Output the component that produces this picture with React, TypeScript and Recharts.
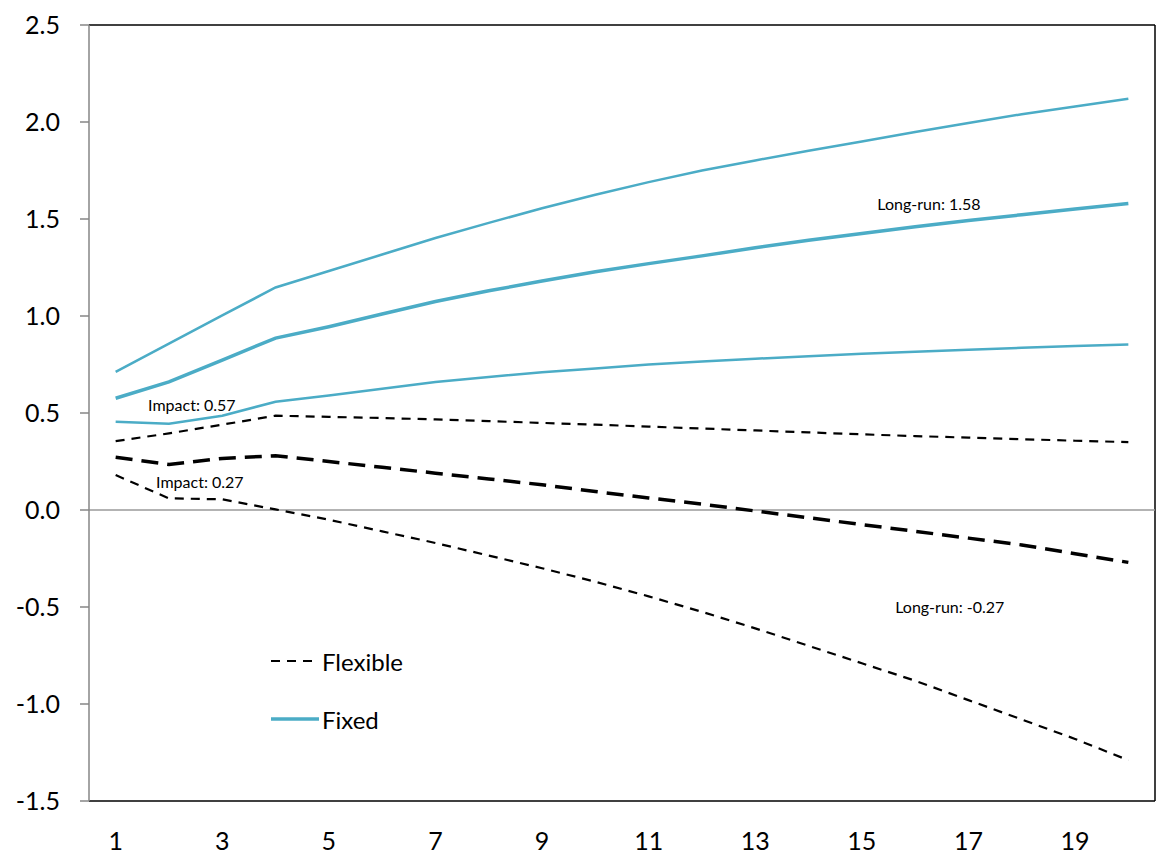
import React from 'react'
import {
  LineChart,
  Line,
  XAxis,
  YAxis,
  ReferenceLine,
  ReferenceDot,
} from 'recharts'

const periods = [1, 2, 3, 4, 5, 6, 7, 8, 9, 10, 11, 12, 13, 14, 15, 16, 17, 18, 19, 20]

const flexibleUpper = [0.355, 0.395, 0.44, 0.486, 0.48, 0.474, 0.467, 0.458, 0.449, 0.44, 0.43, 0.42, 0.41, 0.4, 0.39, 0.381, 0.373, 0.365, 0.357, 0.35]
const flexibleMid = [0.272, 0.235, 0.266, 0.28, 0.25, 0.22, 0.19, 0.16, 0.13, 0.095, 0.062, 0.03, -0.005, -0.04, -0.075, -0.11, -0.145, -0.18, -0.225, -0.27]
const flexibleLower = [0.18, 0.06, 0.055, 0.003, -0.05, -0.11, -0.17, -0.235, -0.3, -0.37, -0.445, -0.525, -0.61, -0.7, -0.79, -0.88, -0.98, -1.08, -1.18, -1.29]

const fixedUpper = [0.712, 0.858, 1.003, 1.147, 1.232, 1.317, 1.402, 1.48, 1.555, 1.625, 1.69, 1.75, 1.802, 1.852, 1.9, 1.948, 1.995, 2.04, 2.08, 2.12]
const fixedMid = [0.576, 0.66, 0.773, 0.886, 0.945, 1.01, 1.075, 1.13, 1.18, 1.228, 1.27, 1.31, 1.352, 1.39, 1.425, 1.46, 1.492, 1.522, 1.552, 1.58]
const fixedLower = [0.455, 0.445, 0.486, 0.558, 0.59, 0.625, 0.66, 0.686, 0.71, 0.73, 0.75, 0.766, 0.78, 0.792, 0.805, 0.816, 0.826, 0.836, 0.845, 0.853]

const xTicks = [1, 3, 5, 7, 9, 11, 13, 15, 17, 19]
const yTicks = [-1.5, -1.0, -0.5, 0.0, 0.5, 1.0, 1.5, 2.0, 2.5]

const annotations = [
  { text: 'Impact: 0.57', x: 2.43, y: 0.54 },
  { text: 'Impact: 0.27', x: 2.58, y: 0.144 },
  { text: 'Long-run: 1.58', x: 16.26, y: 1.577 },
  { text: 'Long-run: -0.27', x: 16.65, y: -0.5 },
]

const FONT = 'Lato, "Open Sans", sans-serif'
const BLUE = '#4bacc6'

const data = periods.map((p, i) => ({
  period: p,
  flexibleUpper: flexibleUpper[i],
  flexibleMid: flexibleMid[i],
  flexibleLower: flexibleLower[i],
  fixedUpper: fixedUpper[i],
  fixedMid: fixedMid[i],
  fixedLower: fixedLower[i],
}))

function LegendBox() {
  const row = (label: string, dashed: boolean) => (
    <div style={{ display: 'flex', alignItems: 'center', height: 58 }}>
      <svg width={51} height={10}>
        <line
          x1={0}
          y1={5}
          x2={48}
          y2={5}
          stroke={dashed ? '#000' : BLUE}
          strokeWidth={dashed ? 2.2 : 3.5}
          strokeDasharray={dashed ? '9 7' : undefined}
        />
      </svg>
      <span style={{ fontSize: 24, color: '#000', fontFamily: FONT }}>{label}</span>
    </div>
  )
  return (
    <div style={{ position: 'absolute', left: 271, top: 632 }}>
      {row('Flexible', true)}
      {row('Fixed', false)}
    </div>
  )
}

export default function App() {
  return (
    <div style={{ position: 'absolute', left: 0, top: 0, background: '#fff' }}>
      <style>{'body{margin:0}'}</style>
      <LineChart
        width={1158}
        height={857}
        data={data}
        margin={{ top: 25, right: 3, left: 0, bottom: 0 }}
      >
        <XAxis
          dataKey="period"
          type="number"
          domain={[0.5, 20.5]}
          ticks={xTicks}
          height={56}
          tickSize={0}
          tickMargin={31}
          axisLine={{ stroke: '#000', strokeWidth: 1.5 }}
          tick={{ fontSize: 25, fontFamily: FONT, fill: '#000' }}
        />
        <YAxis
          type="number"
          domain={[-1.5, 2.5]}
          ticks={yTicks}
          width={89}
          tickSize={9}
          tickMargin={20}
          tickFormatter={(v: number) => v.toFixed(1)}
          axisLine={{ stroke: '#868686', strokeWidth: 1.5 }}
          tickLine={{ stroke: '#868686', strokeWidth: 1.5 }}
          tick={{ fontSize: 25, fontFamily: FONT, fill: '#000' }}
        />
        <ReferenceLine y={2.5} stroke="#000" strokeWidth={1.5} />
        <ReferenceLine x={20.5} stroke="#000" strokeWidth={1.5} />
        <ReferenceLine y={0} stroke="#9a9a9a" strokeWidth={1.5} />
        <Line dataKey="fixedUpper" stroke={BLUE} strokeWidth={2.5} dot={false} isAnimationActive={false} />
        <Line dataKey="fixedMid" stroke={BLUE} strokeWidth={3.5} dot={false} isAnimationActive={false} />
        <Line dataKey="fixedLower" stroke={BLUE} strokeWidth={2.5} dot={false} isAnimationActive={false} />
        <Line dataKey="flexibleUpper" stroke="#000" strokeWidth={2.2} strokeDasharray="9 7" dot={false} isAnimationActive={false} />
        <Line dataKey="flexibleMid" stroke="#000" strokeWidth={3.5} strokeDasharray="17 9" dot={false} isAnimationActive={false} />
        <Line dataKey="flexibleLower" stroke="#000" strokeWidth={2.2} strokeDasharray="9 7" dot={false} isAnimationActive={false} />
        {annotations.map((a) => (
          <ReferenceDot
            key={a.text}
            x={a.x}
            y={a.y}
            r={0}
            fill="none"
            stroke="none"
            label={{ value: a.text, position: 'center', fontSize: 16, fontFamily: FONT, fill: '#000' }}
          />
        ))}
      </LineChart>
      <LegendBox />
    </div>
  )
}
